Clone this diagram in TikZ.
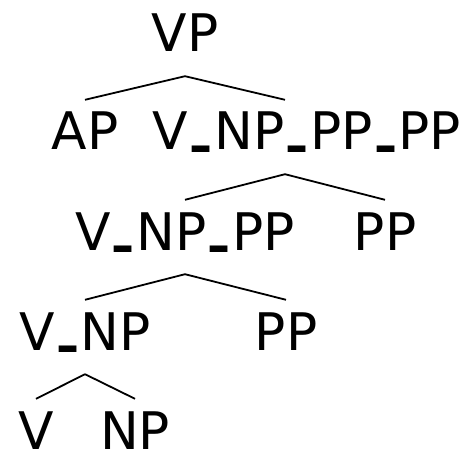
\documentclass[tikz,border=0pt]{standalone}
\usepackage{fontspec}
\setmainfont{DejaVu Sans}
\newcommand{\ul}{\kern.085em\raisebox{.37em}{\scalebox{.66}[1.8]{\_}}\kern.085em}
\begin{document}
\begin{tikzpicture}[x=1bp,y=-1bp,
  cat/.style={anchor=base,inner xsep=0pt,inner ysep=12bp,text height=38bp,text depth=12bp,font=\fontsize{52}{60}\selectfont},
  leaf/.style={cat,inner ysep=0pt,text height=50bp,text depth=0pt},
  edge/.style={line width=1.8bp}]
\useasboundingbox (0,0) rectangle (466,452);
\node[cat] (vp) at (185,52) {VP};
\node[cat] (ap) at (85,150) {AP};
\node[cat] (vnpppp) at (307,150) {V\ul NP\ul PP\ul PP};
\coordinate (vnpppp-top) at ([xshift=-22bp]vnpppp.north);
\coordinate (vnpppp-bot) at ([xshift=-22bp]vnpppp.south);
\node[cat] (vnppp) at (185,250) {V\ul NP\ul PP};
\node[cat] (ppa) at (385,250) {PP};
\node[cat] (vnp) at (85,350) {V\ul NP};
\node[cat] (ppb) at (286,350) {PP};
\node[leaf] (v) at (36,449) {V};
\node[leaf] (np) at (135,449) {NP};
\foreach \p/\c in {vp.south/ap.north,vp.south/vnpppp-top,
                   vnpppp-bot/vnppp.north,vnpppp-bot/ppa.north,
                   vnppp.south/vnp.north,vnppp.south/ppb.north,
                   vnp.south/v.north,vnp.south/np.north}
  {\draw[edge] (\p) -- (\c);}
\end{tikzpicture}
\end{document}
